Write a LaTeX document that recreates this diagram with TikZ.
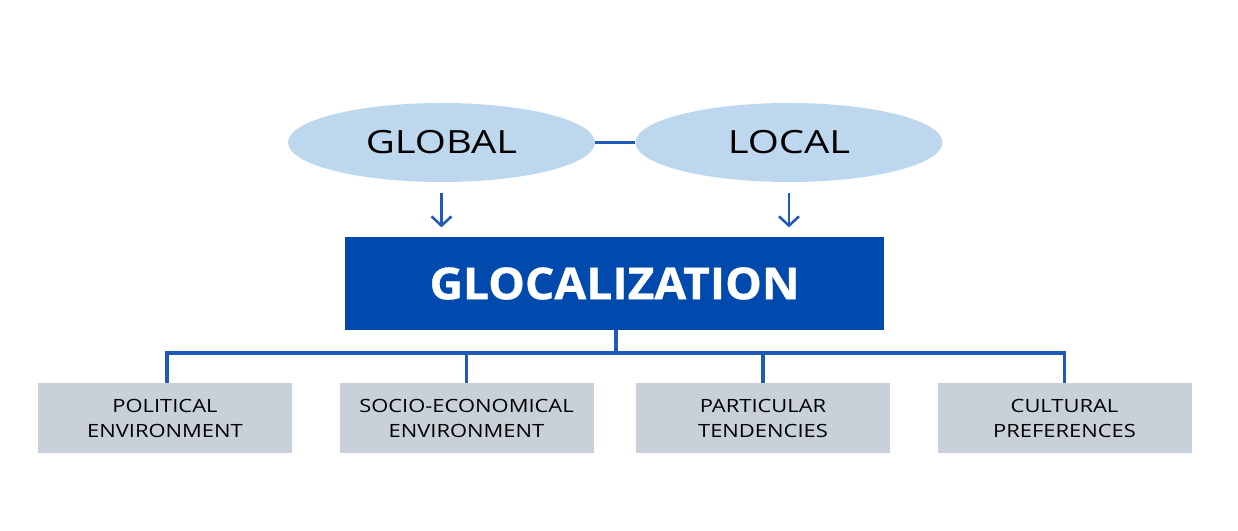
\documentclass[tikz,border=0pt]{standalone}
\usepackage{fontspec}
\setmainfont{Open Sans}
\newfontfamily\ovalfont[FakeStretch=1.25]{Open Sans}
\newfontfamily\titlefont[FakeStretch=1.05,FakeBold=0.8]{Open Sans}
\newfontfamily\factorfont[FakeStretch=1.2]{Open Sans}
\usetikzlibrary{shapes.geometric,arrows.meta}

\definecolor{ovalblue}{RGB}{189,215,238}
\definecolor{boxblue}{RGB}{0,74,173}
\definecolor{lineblue}{RGB}{31,90,184}
\definecolor{boxgray}{RGB}{200,208,217}

\begin{document}
\begin{tikzpicture}[x=0.75pt,y=0.75pt,yscale=-1,xscale=1,
  oval/.style={ellipse,fill=ovalblue,minimum width=230.25pt,minimum height=59.25pt,inner sep=0pt,font=\ovalfont\fontsize{24}{28}\selectfont},
  mainbox/.style={rectangle,fill=boxblue,minimum width=404.25pt,minimum height=69.75pt,text=white,font=\titlefont\fontsize{33}{40}\selectfont\bfseries},
  factor/.style={rectangle,fill=boxgray,minimum width=190.5pt,minimum height=52.5pt,align=center,inner sep=0pt,font=\factorfont\fontsize{13.7}{18.75}\selectfont},
  link/.style={draw=lineblue,line width=2.3pt},
  flow/.style={draw=lineblue,line width=1.9pt,-{Straight Barb[length=7pt,width=15pt,line width=1.9pt]}}]
%set diagram frame
\useasboundingbox (0,0) rectangle (1238,531);

% Ellipses
\node [oval] (global) at (441.5,142.5) {GLOBAL};
\node [oval] (local) at (789,142.5) {LOCAL};
% Main box
\node [mainbox] (glocal) at (614.5,283.5) {GLOCALIZATION};
% Factor boxes
\node [factor] (political) at (165,418) {POLITICAL\\ENVIRONMENT};
\node [factor] (socio) at (466.5,418) {SOCIO-ECONOMICAL\\ENVIRONMENT};
\node [factor] (particular) at (763,418) {PARTICULAR\\TENDENCIES};
\node [factor] (cultural) at (1064.5,418) {CULTURAL\\PREFERENCES};
\coordinate (bus) at (616,353);

% Straight Lines
\draw [link] (global.east) -- (local.west);
\draw [flow,shorten <=8pt,shorten >=7pt] (global.south) -- (global.south |- glocal.north);
\draw [flow,shorten <=8pt,shorten >=7pt] (local.south) -- (local.south |- glocal.north);
\draw [link] (bus |- glocal.south) -- (bus);
\draw [link] (political.north -| 167,0) -- (bus -| 167,0) -- (cultural.north |- bus) -- (cultural.north);
\foreach \f in {socio,particular}
  \draw [link] (\f.north |- bus) -- (\f.north);

\end{tikzpicture}
\end{document}
